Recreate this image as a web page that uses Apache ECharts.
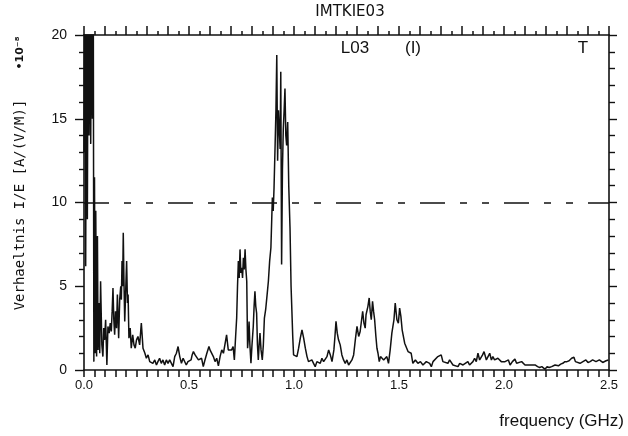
<!DOCTYPE html>
<html>
<head>
<meta charset="utf-8">
<script src="https://cdn.jsdelivr.net/npm/echarts@6/dist/echarts.min.js"></script>
<style>
  html, body { margin: 0; padding: 0; background: #fff; }
  #main { width: 628px; height: 436px; }
</style>
</head>
<body>
<div id="main"></div>
<script>
// frequency in GHz
var freq = [
  0.000, 0.004, 0.008, 0.012, 0.016, 0.020, 0.024, 0.028, 0.032, 0.036,
  0.040, 0.044, 0.047, 0.050, 0.053, 0.056, 0.060, 0.064, 0.067, 0.071,
  0.075, 0.079, 0.085, 0.090, 0.094, 0.098, 0.103, 0.109, 0.114, 0.120,
  0.125, 0.130, 0.134, 0.138, 0.142, 0.146, 0.150, 0.155, 0.159, 0.162,
  0.165, 0.170, 0.175, 0.178, 0.181, 0.184, 0.187, 0.190, 0.194, 0.198,
  0.203, 0.207, 0.210, 0.214, 0.220, 0.225, 0.232, 0.238, 0.244, 0.250,
  0.257, 0.265, 0.273, 0.281, 0.290, 0.297, 0.305, 0.313, 0.320, 0.328,
  0.337, 0.345, 0.352, 0.360, 0.368, 0.376, 0.384, 0.392, 0.400, 0.408,
  0.416, 0.424, 0.432, 0.440, 0.448, 0.456, 0.464, 0.472, 0.479, 0.487,
  0.495, 0.503, 0.510, 0.515, 0.521, 0.529, 0.537, 0.545, 0.552, 0.560,
  0.568, 0.576, 0.585, 0.595, 0.600, 0.608, 0.616, 0.624, 0.632, 0.640,
  0.648, 0.656, 0.664, 0.671, 0.679, 0.687, 0.695, 0.703, 0.710, 0.716,
  0.722, 0.727, 0.731, 0.735, 0.739, 0.743, 0.747, 0.751, 0.755, 0.759,
  0.763, 0.767, 0.771, 0.775, 0.779, 0.783, 0.786, 0.790, 0.795, 0.800,
  0.806, 0.810, 0.814, 0.818, 0.822, 0.826, 0.830, 0.834, 0.838, 0.843,
  0.849, 0.854, 0.859, 0.865, 0.872, 0.878, 0.884, 0.890, 0.894, 0.897,
  0.901, 0.905, 0.910, 0.914, 0.918, 0.922, 0.926, 0.930, 0.934, 0.937,
  0.941, 0.945, 0.949, 0.953, 0.957, 0.961, 0.965, 0.970, 0.975, 0.981,
  0.986, 0.989, 0.994, 0.998, 1.006, 1.014, 1.022, 1.030, 1.038, 1.046,
  1.054, 1.062, 1.069, 1.077, 1.085, 1.093, 1.101, 1.109, 1.117, 1.125,
  1.133, 1.141, 1.149, 1.157, 1.165, 1.173, 1.181, 1.190, 1.195, 1.200,
  1.206, 1.212, 1.220, 1.228, 1.236, 1.244, 1.252, 1.260, 1.268, 1.276,
  1.284, 1.292, 1.300, 1.308, 1.315, 1.322, 1.327, 1.333, 1.339, 1.343,
  1.347, 1.352, 1.358, 1.363, 1.368, 1.374, 1.379, 1.384, 1.390, 1.395,
  1.400, 1.406, 1.412, 1.419, 1.427, 1.434, 1.442, 1.450, 1.458, 1.466,
  1.471, 1.476, 1.482, 1.490, 1.497, 1.503, 1.509, 1.515, 1.527, 1.543,
  1.558, 1.566, 1.578, 1.590, 1.602, 1.614, 1.630, 1.646, 1.654, 1.662,
  1.670, 1.685, 1.701, 1.709, 1.717, 1.733, 1.741, 1.749, 1.757, 1.765,
  1.781, 1.789, 1.797, 1.805, 1.813, 1.828, 1.836, 1.844, 1.852, 1.860,
  1.868, 1.876, 1.884, 1.892, 1.898, 1.905, 1.916, 1.924, 1.932, 1.940,
  1.947, 1.955, 1.963, 1.971, 1.979, 1.987, 1.995, 2.005, 2.013, 2.021,
  2.029, 2.040, 2.052, 2.060, 2.068, 2.084, 2.092, 2.100, 2.116, 2.125,
  2.132, 2.140, 2.148, 2.160, 2.170, 2.180, 2.188, 2.195, 2.205, 2.215,
  2.227, 2.235, 2.243, 2.251, 2.259, 2.270, 2.280, 2.290, 2.300, 2.310,
  2.322, 2.333, 2.340, 2.348, 2.362, 2.376, 2.390, 2.400, 2.410, 2.422,
  2.438, 2.454, 2.470, 2.486, 2.497
];

// Verhaeltnis I/E, units of 1e-8 A/(V/M)
var ratio = [
  13.0, 24.0, 6.2, 24.0, 9.0, 24.0, 14.0, 24.0, 13.5, 24.0,
  15.0, 24.0, 0.5, 11.5, 1.0, 9.5, 0.8, 8.0, 1.2, 4.0,
  1.0, 5.3, 1.5, 0.8, 2.5, 1.8, 3.0, 0.3, 2.6, 2.2,
  2.8, 2.3, 3.5, 4.9, 3.0, 2.1, 3.5, 2.5, 4.5, 3.2,
  1.9, 4.2, 5.0, 4.2, 6.5, 5.0, 8.2, 5.5, 2.9, 4.5,
  6.5, 4.0, 4.5, 1.9, 2.5, 1.3, 2.1, 1.5, 1.3, 1.8,
  2.0, 1.5, 2.8, 1.3, 1.0, 0.7, 0.9, 0.5, 0.6, 0.4,
  0.6, 0.3, 0.5, 0.7, 0.4, 0.6, 0.3, 0.6, 0.4, 0.6,
  0.5, 0.2, 0.8, 1.0, 1.4, 0.8, 0.4, 0.7, 0.6, 0.3,
  0.5, 0.4, 0.6, 0.9, 1.1, 0.9, 0.8, 0.6, 0.5, 0.7,
  0.2, 0.6, 1.0, 1.4, 1.2, 1.1, 0.8, 0.5, 0.7, 0.25,
  0.8, 1.2, 1.0, 1.1, 2.1, 1.2, 1.3, 1.2, 1.4, 0.6,
  2.0, 3.1, 5.0, 6.5, 5.5, 7.2, 5.8, 6.1, 5.5, 6.7,
  6.0, 7.2, 6.0, 5.3, 1.3, 2.0, 2.9, 1.5, 0.4, 1.5,
  2.6, 3.8, 4.7, 3.8, 3.4, 1.5, 0.6, 1.5, 2.2, 1.2,
  0.6, 1.5, 3.1, 3.6, 4.5, 5.3, 6.5, 7.3, 9.0, 10.3,
  9.5, 10.9, 13.4, 15.5, 18.8, 12.5, 15.5, 14.4, 13.2, 17.8,
  6.3, 12.0, 14.4, 15.5, 16.8, 14.0, 13.4, 14.8, 11.0, 8.5,
  5.0, 3.9, 2.0, 0.9, 1.0, 0.8, 1.3, 1.9, 2.4, 1.9,
  1.3, 0.8, 0.5, 0.6, 0.6, 0.4, 0.2, 0.5, 0.6, 0.4,
  0.7, 0.5, 0.4, 0.8, 1.2, 0.9, 0.5, 1.2, 2.0, 2.9,
  2.2, 1.8, 1.5, 0.9, 0.6, 0.4, 0.6, 0.3, 0.2, 0.6,
  0.9, 1.8, 2.6, 2.0, 2.3, 3.0, 3.5, 2.8, 2.5, 3.3,
  3.3, 3.8, 4.3, 3.5, 3.0, 4.1, 3.5, 3.0, 2.0, 1.3,
  1.0, 0.5, 0.8, 0.9, 0.6, 0.7, 0.8, 0.4, 1.2, 2.2,
  2.6, 3.0, 4.0, 3.0, 2.8, 3.7, 3.2, 2.4, 1.6, 1.1,
  1.0, 0.4, 0.6, 0.4, 0.5, 0.3, 0.5, 0.4, 0.2, 0.5,
  0.6, 0.8, 0.9, 0.5, 0.6, 0.4, 0.6, 0.5, 0.3, 0.3,
  0.2, 0.4, 0.4, 0.3, 0.3, 0.5, 0.3, 0.4, 0.5, 0.7,
  0.5, 1.0, 0.6, 0.7, 0.9, 1.1, 0.6, 0.8, 1.0, 0.6,
  0.8, 0.6, 0.5, 0.7, 0.6, 0.5, 0.4, 0.5, 0.4, 0.6,
  0.3, 0.5, 0.65, 0.4, 0.3, 0.5, 0.4, 0.3, 0.3, 0.4,
  0.3, 0.2, 0.3, 0.2, 0.15, 0.2, 0.1, 0.05, 0.2, 0.15,
  0.2, 0.25, 0.3, 0.3, 0.25, 0.35, 0.4, 0.5, 0.5, 0.55,
  0.7, 0.76, 0.5, 0.45, 0.4, 0.5, 0.6, 0.45, 0.5, 0.6,
  0.5, 0.6, 0.45, 0.55, 0.6
];

var xTicks = [0, 0.5, 1.0, 1.5, 2.0, 2.5];
var yTicks = [0, 5, 10, 15, 20];
var limitValue = 10;

var titleText = 'IMTKIE03';
var notes = ['L03', '(I)', 'T'];
var yName = 'Verhaeltnis I/E [A/(V/M)]';
var yScale = '•10⁻⁸';
var xName = 'frequency (GHz)';

var chart = echarts.init(document.getElementById('main'));

var ink = '#111';
var points = freq.map(function (f, i) { return [f, ratio[i]]; });

var option = {
  backgroundColor: '#fff',
  animation: false,
  grid: { left: 84, right: 19, top: 35, bottom: 66 },
  xAxis: [{
    type: 'value', position: 'bottom',
    min: xTicks[0], max: xTicks[xTicks.length - 1], interval: 0.5,
    axisLine: { onZero: false, lineStyle: { color: ink, width: 1.6 } },
    axisTick: { show: true, length: 7, lineStyle: { color: ink, width: 1.5 } },
    minorTick: { show: true, splitNumber: 10, length: 7, lineStyle: { color: ink, width: 1.5 } },
    axisLabel: {
      color: ink, fontSize: 13, fontFamily: 'Liberation Sans', margin: 9,
      formatter: function (v) { return v.toFixed(1); }
    },
    splitLine: { show: false }
  }, {
    type: 'value', position: 'top',
    min: 0, max: 2.5, interval: 0.1,
    axisLine: { show: true, onZero: false, lineStyle: { color: ink, width: 1.6 } },
    axisTick: { show: true, length: 9, lineStyle: { color: ink, width: 1.5 } },
    minorTick: { show: true, splitNumber: 2, length: 4, lineStyle: { color: ink, width: 1.5 } },
    axisLabel: { show: false },
    splitLine: { show: false }
  }],
  yAxis: [{
    type: 'value', position: 'left',
    min: yTicks[0], max: yTicks[yTicks.length - 1], interval: 5,
    axisLine: { show: true, onZero: false, lineStyle: { color: ink, width: 1.6 } },
    axisTick: { show: true, length: 9, lineStyle: { color: ink, width: 1.4 } },
    minorTick: { show: true, splitNumber: 5, length: 5, lineStyle: { color: ink, width: 1.4 } },
    axisLabel: { color: ink, fontSize: 14, fontFamily: 'Liberation Sans', margin: 17 },
    splitLine: { show: false }
  }, {
    type: 'value', position: 'right',
    min: 0, max: 20, interval: 5,
    axisLine: { show: true, onZero: false, lineStyle: { color: ink, width: 1.6 } },
    axisTick: { show: true, length: 8, lineStyle: { color: ink, width: 1.4 } },
    minorTick: { show: true, splitNumber: 5, length: 6, lineStyle: { color: ink, width: 1.4 } },
    axisLabel: { show: false },
    splitLine: { show: false }
  }],
  series: [{
    type: 'line',
    data: points,
    showSymbol: false,
    clip: true,
    lineStyle: { color: ink, width: 1.5 },
    markLine: {
      silent: true,
      symbol: 'none',
      label: { show: false },
      lineStyle: { color: ink, width: 1.6, type: [25, 15, 7, 15, 7, 15] },
      data: [[{ coord: [0, limitValue] }, { coord: [2.5, limitValue] }]]
    }
  }],
  graphic: [
    { type: 'text', x: 350, y: 12, style: { text: titleText, fontFamily: 'DejaVu Sans', fontSize: 15, fill: ink, align: 'center', verticalAlign: 'middle' } },
    { type: 'text', x: 355, y: 48, style: { text: notes[0], fontFamily: 'Liberation Sans', fontSize: 17, fill: ink, align: 'center', verticalAlign: 'middle' } },
    { type: 'text', x: 413, y: 48, style: { text: notes[1], fontFamily: 'Liberation Sans', fontSize: 17, fill: ink, align: 'center', verticalAlign: 'middle' } },
    { type: 'text', x: 583, y: 48, style: { text: notes[2], fontFamily: 'Liberation Sans', fontSize: 17, fill: ink, align: 'center', verticalAlign: 'middle' } },
    { type: 'text', x: 20, y: 53, rotation: Math.PI / 2, style: { text: yScale, fontFamily: 'DejaVu Sans', fontSize: 11, fontWeight: 'bold', fill: ink, align: 'center', verticalAlign: 'middle' } },
    { type: 'text', x: 20, y: 205, rotation: Math.PI / 2, style: { text: yName, fontFamily: 'DejaVu Sans Mono', fontSize: 14, fill: ink, align: 'center', verticalAlign: 'middle' } },
    { type: 'text', x: 624, y: 421, style: { text: xName, fontFamily: 'Liberation Sans', fontSize: 17, fill: ink, align: 'right', verticalAlign: 'middle' } }
  ]
};

chart.setOption(option);
</script>
</body>
</html>
